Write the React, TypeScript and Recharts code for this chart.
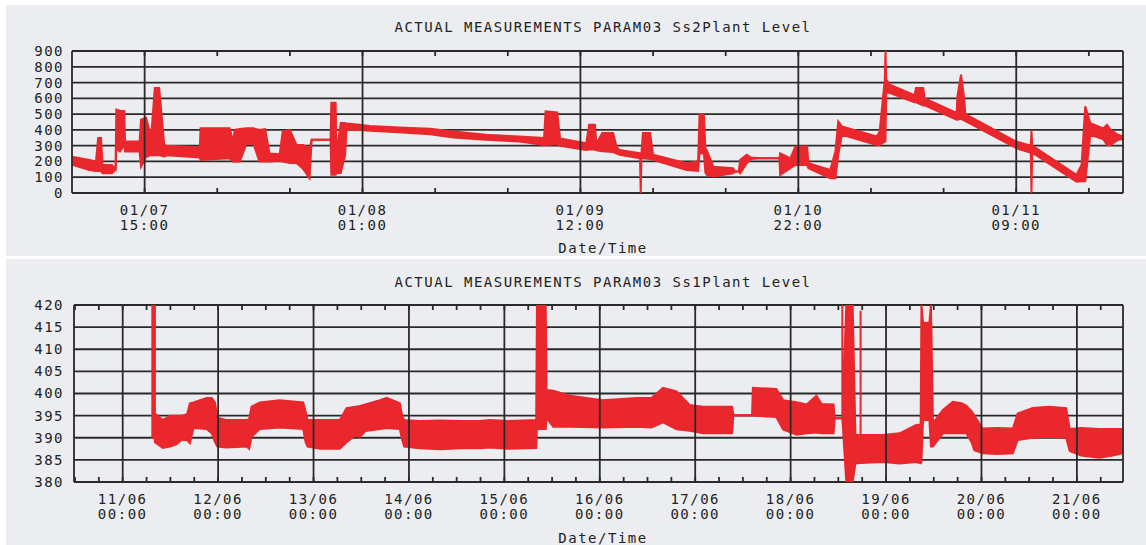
import React from "react";
import {
  ComposedChart,
  Area,
  XAxis,
  YAxis,
  CartesianGrid,
  ReferenceLine,
} from "recharts";

const FONT = "'DejaVu Sans Mono', monospace";
const RED = "#e9272c";
const GRID = "#2a2a2a";
const PANEL = "#ecedf0";

// ---- Ss2Plant (top) : x in tick steps, majors every 3 steps
const ss2Majors = [1, 4, 7, 10, 13];
const ss2MajorDates = ["01/07", "01/08", "01/09", "01/10", "01/11"];
const ss2MajorTimes = ["15:00", "01:00", "12:00", "22:00", "09:00"];
const ss2Minors = [2, 3, 5, 6, 8, 9, 11, 12, 14];
const ss2YTicks = [0, 100, 200, 300, 400, 500, 600, 700, 800, 900];

const ss2T = [
  0, 0.24, 0.33, 0.36, 0.4, 0.42, 0.55, 0.6, 0.61, 0.66, 0.72, 0.73, 0.93, 0.95, 1.02, 1.09, 1.14, 1.2,
  1.27, 1.3, 1.76, 1.77, 2.17, 2.22, 2.24, 2.31, 2.4, 2.5, 2.58, 2.66, 2.72, 2.86, 2.9, 3.0, 3.09, 3.18,
  3.27, 3.3, 3.56, 3.57, 3.63, 3.64, 3.7, 3.76, 3.78, 3.96, 4.1, 4.5, 4.93, 5.25, 5.7, 6.16, 6.5, 6.52,
  6.68, 6.72, 7.08, 7.12, 7.2, 7.22, 7.3, 7.45, 7.5, 7.54, 7.82, 7.83, 7.84, 7.86, 7.96, 8.0, 8.46, 8.62,
  8.64, 8.7, 8.72, 8.74, 8.83, 9.1, 9.13, 9.18, 9.2, 9.29, 9.35, 9.47, 9.74, 9.75, 9.89, 9.96, 10.12,
  10.14, 10.44, 10.51, 10.55, 10.6, 11.08, 11.12, 11.19, 11.2, 11.21, 11.26, 11.6, 11.62, 11.72, 11.74,
  12.18, 12.19, 12.24, 12.28, 12.3, 13.0, 13.2, 13.21, 13.22, 13.83, 13.9, 13.95, 14.02, 14.2, 14.25,
  14.3, 14.4, 14.47,
];
const ss2Low = [
  180, 146, 140, 140, 140, 125, 125, 150, 280, 263, 305, 263, 263, 167, 230, 240, 240, 240,
  231, 240, 225, 210, 220, 199, 200, 200, 310, 310, 200, 200, 200, 205, 200, 190, 190, 154,
  93, 337, 337, 115, 115, 127, 127, 240, 400, 400, 395, 385, 372, 352, 337, 326, 305, 305,
  310, 300, 273, 275, 275, 270, 265, 260, 250, 242, 220, 0, 220, 220, 215, 210, 146, 140,
  250, 250, 130, 115, 104, 125, 136, 136, 125, 189, 215, 220, 220, 115, 157, 178, 178,
  157, 93, 93, 242, 369, 305, 305, 326, 326, 640, 634, 575, 575, 555, 555,
  464, 464, 470, 460, 455, 284, 255, 0, 255, 72, 75, 75, 369, 340, 305,
  305, 337, 340,
];
const ss2High = [
  230, 210, 200, 348, 348, 178, 178, 150, 528, 521, 520, 326, 326, 464, 477, 358, 666, 666,
  305, 300, 290, 411, 411, 326, 400, 405, 410, 410, 400, 405, 250, 245, 390, 400, 305, 305,
  284, 337, 337, 572, 572, 254, 443, 443, 440, 432, 425, 415, 408, 390, 369, 358, 348, 517,
  510, 345, 316, 432, 432, 310, 380, 380, 290, 273, 252, 252, 252, 380, 380, 242, 189, 200,
  500, 495, 284, 270, 167, 157, 136, 136, 210, 242, 225, 220, 220, 252, 220, 294, 294,
  189, 146, 263, 453, 422, 358, 390, 719, 900, 719, 687, 620, 666, 666, 600,
  507, 613, 750, 613, 500, 326, 300, 394, 300, 115, 180, 549, 443, 410, 432,
  400, 369, 360,
];

// ---- Ss1Plant (bottom) : x in hours from 11/06 00:00
const ss1Majors = [0, 24, 48, 72, 96, 120, 144, 168, 192, 216, 240];
const ss1MajorDates = ["11/06", "12/06", "13/06", "14/06", "15/06", "16/06", "17/06", "18/06", "19/06", "20/06", "21/06"];
const ss1MajorTimes = ["00:00", "00:00", "00:00", "00:00", "00:00", "00:00", "00:00", "00:00", "00:00", "00:00", "00:00"];
const ss1YTicks = [380, 385, 390, 395, 400, 405, 410, 415, 420];

const ss1T = [
  7.2, 8.1, 8.1, 10.1, 11.9, 13.5, 14.8, 16.2, 16.9, 17.8, 21.1, 22.4, 23.2, 23.8, 26, 31.2, 31.8, 32.4,
  34.5, 39.5, 45.4, 46.0, 46.5, 49.6, 54.6, 56.3, 58.5, 59.7, 61, 64.7, 66.4, 69.7, 70.3, 70.8, 74.7,
  80, 85, 89.8, 92.3, 97, 104, 104.2, 106.4, 106.6, 108.3, 112.5, 120.8, 129.2, 133, 135.9, 139.3,
  142.6, 146, 153.3, 153.6, 158.3, 158.5, 164.4, 166.1, 169.5, 172, 174.5, 175.8, 178.8, 179.1, 181,
  181, 181, 182, 183.6, 184.3, 185.6, 185.6, 185.6, 191.2, 195.4, 199.6, 200.7, 200.9, 201.3, 202.9,
  203.3, 203.8, 206.3, 208.8, 211, 212.2, 213.5, 214.2, 216.3, 220, 223.9, 225.1, 228.9, 233, 237.3,
  238.2, 241, 245.7, 249, 251.5,
];
const ss1Low = [
  390, 390, 389, 387.7, 388, 388.5, 389.5, 389.5, 388.8, 392.2, 392, 391, 389, 388, 387.8, 388, 387.5, 390.2,
  392, 392.3, 392, 389, 388, 387.5, 387.5, 389, 390.5, 390.2, 391.5, 392, 392.2, 392, 389.5, 388, 387.6,
  387.4, 387.6, 387.6, 387.8, 387.5, 387.7, 392, 392, 394.5, 392.5, 392.5, 392.3, 392.5, 392.3, 393.5, 391.9,
  391.6, 391, 391, 395.1, 395.1, 395, 394.7, 391.9, 390.7, 391, 391.2, 391, 391, 394.4, 394.4,
  394.4, 394.4, 380, 380, 384.2, 384.3, 384.3, 384.3, 384.5, 384.2, 384.5, 384.2, 384.5, 394, 394,
  388, 388, 391, 391, 391, 391, 389, 387.2, 386.5, 386.3, 386.5, 389.5, 390, 390.2, 390,
  387, 386, 385.5, 386, 386.5,
];
const ss1High = [
  420, 420, 395.5, 394, 395, 395, 395, 395.3, 397.8, 398, 399, 399, 398, 394.5, 394, 394, 394.2, 397,
  398, 398.5, 398, 396, 394, 394, 394, 396.7, 397, 397.2, 397.5, 398.5, 399, 397.8, 395, 394, 393.8,
  393.9, 393.8, 393.8, 394, 393.8, 394, 420, 420, 400.8, 400.6, 399.5, 398.5, 399, 399, 401.3, 400.5,
  397.4, 397, 397, 395.1, 395.1, 401.3, 401, 398.5, 398, 397.5, 399.5, 397.6, 397.5, 394.4, 394.4,
  420, 394.4, 420, 420, 390.6, 390.6, 418.7, 390.6, 390.6, 391, 392.9, 393, 420, 416, 416,
  420, 393.3, 396.3, 398.1, 397.8, 397.2, 396, 395, 392.1, 392.2, 392.1, 395.5, 396.7, 397, 396.7,
  392, 392.2, 392, 392, 392,
];

const ss2Data = ss2T.map((t, i) => ({ t, range: [ss2Low[i], ss2High[i]] }));
const ss1Data = ss1T.map((t, i) => ({ t, range: [ss1Low[i], ss1High[i]] }));

const textStyle = { fontFamily: FONT, fontSize: 14, fill: "#222", letterSpacing: 1.5 };

function makeTick(majors: number[], dates: string[], times: string[], plotH: number) {
  return (props: any) => {
    const { x, y, payload } = props;
    const idx = majors.indexOf(payload.value);
    return (
      <g>
        <line x1={x} y1={y} x2={x} y2={y - 5} stroke={GRID} strokeWidth={1.8} />
        <line x1={x} y1={y - plotH} x2={x} y2={y - plotH + 5} stroke={GRID} strokeWidth={1.8} />
        {idx >= 0 && (
          <>
            <text x={x} y={y + 22} textAnchor="middle" {...textStyle}>
              {dates[idx]}
            </text>
            <text x={x} y={y + 37} textAnchor="middle" {...textStyle}>
              {times[idx]}
            </text>
          </>
        )}
      </g>
    );
  };
}

function Panel(props: {
  top: number;
  height: number;
  title: string;
  titleY: number;
  dateY: number;
  children: React.ReactNode;
}) {
  const label = {
    position: "absolute" as const,
    left: 597,
    transform: "translate(-50%, -50%)",
    whiteSpace: "nowrap" as const,
    fontFamily: FONT,
    fontSize: 14,
    letterSpacing: 1.5,
    color: "#222",
  };
  return (
    <div
      style={{
        position: "absolute",
        left: 6,
        top: props.top,
        width: 1140,
        height: props.height,
        background: PANEL,
      }}
    >
      <div style={{ ...label, top: props.titleY }}>{props.title}</div>
      {props.children}
      <div style={{ ...label, top: props.dateY }}>Date/Time</div>
    </div>
  );
}

function Ss2Chart() {
  const plotH = 142;
  const ticks = [...ss2Majors, ...ss2Minors].sort((a, b) => a - b);
  return (
    <ComposedChart width={1140} height={251} data={ss2Data} margin={{ top: 46, right: 23, bottom: 0, left: 0 }}>
      <CartesianGrid vertical={false} stroke={GRID} strokeWidth={1.8} />
      {ss2Majors.map((m) => (
        <ReferenceLine key={m} x={m} stroke={GRID} strokeWidth={1.8} />
      ))}
      <ReferenceLine x={14.47} stroke={GRID} strokeWidth={1.8} />
      <XAxis
        dataKey="t"
        type="number"
        domain={[0, 14.47]}
        allowDataOverflow
        ticks={ticks}
        interval={0}
        height={63}
        tickSize={0}
        tickMargin={0}
        axisLine={false}
        tickLine={false}
        tick={makeTick(ss2Majors, ss2MajorDates, ss2MajorTimes, plotH)}
      />
      <YAxis
        type="number"
        domain={[0, 900]}
        allowDataOverflow
        ticks={ss2YTicks}
        interval={0}
        width={66}
        tickLine={false}
        tickMargin={2}
        axisLine={{ stroke: GRID, strokeWidth: 1.8 }}
        tick={textStyle}
      />
      <Area
        dataKey="range"
        type="linear"
        stroke={RED}
        strokeWidth={2}
        fill={RED}
        fillOpacity={1}
        isAnimationActive={false}
        dot={false}
        activeDot={false}
      />
    </ComposedChart>
  );
}

function Ss1Chart() {
  const plotH = 177;
  const ticks: number[] = [];
  ss1Majors.forEach((m) => {
    ticks.push(m - 18, m - 12, m - 6, m);
  });
  ticks.push(246);
  const visible = ticks.filter((t) => t > -12.2 && t < 251.6);
  return (
    <ComposedChart width={1140} height={286} data={ss1Data} margin={{ top: 46, right: 23, bottom: 0, left: 0 }}>
      <CartesianGrid vertical={false} stroke={GRID} strokeWidth={1.8} />
      {ss1Majors.map((m) => (
        <ReferenceLine key={m} x={m} stroke={GRID} strokeWidth={1.8} />
      ))}
      <ReferenceLine x={251.6} stroke={GRID} strokeWidth={1.8} />
      <XAxis
        dataKey="t"
        type="number"
        domain={[-12.25, 251.6]}
        allowDataOverflow
        ticks={visible}
        interval={0}
        height={63}
        tickSize={0}
        tickMargin={0}
        axisLine={false}
        tickLine={false}
        tick={makeTick(ss1Majors, ss1MajorDates, ss1MajorTimes, plotH)}
      />
      <YAxis
        type="number"
        domain={[380, 420]}
        allowDataOverflow
        ticks={ss1YTicks}
        interval={0}
        width={68}
        tickLine={false}
        tickMargin={4}
        axisLine={{ stroke: GRID, strokeWidth: 1.8 }}
        tick={textStyle}
      />
      <Area
        dataKey="range"
        type="linear"
        stroke={RED}
        strokeWidth={2}
        fill={RED}
        fillOpacity={1}
        isAnimationActive={false}
        dot={false}
        activeDot={false}
      />
    </ComposedChart>
  );
}

export default function App() {
  return (
    <div style={{ position: "relative", width: 1146, height: 545, background: "#fff" }}>
      <style>{`body{margin:0;}`}</style>
      <Panel top={5} height={251} title="ACTUAL MEASUREMENTS PARAM03 Ss2Plant Level" titleY={22} dateY={243}>
        <Ss2Chart />
      </Panel>
      <Panel top={259} height={286} title="ACTUAL MEASUREMENTS PARAM03 Ss1Plant Level" titleY={23} dateY={279}>
        <Ss1Chart />
      </Panel>
    </div>
  );
}
